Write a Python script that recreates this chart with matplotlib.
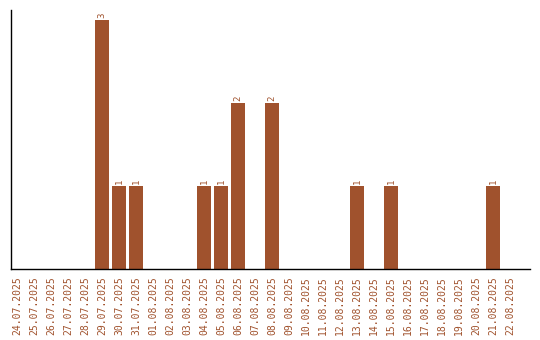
import matplotlib
matplotlib.use("Agg")
import matplotlib.pyplot as plt
import numpy as np

dates = ["24.07.2025","25.07.2025","26.07.2025","27.07.2025","28.07.2025","29.07.2025",
         "30.07.2025","31.07.2025","01.08.2025","02.08.2025","03.08.2025","04.08.2025",
         "05.08.2025","06.08.2025","07.08.2025","08.08.2025","09.08.2025","10.08.2025",
         "11.08.2025","12.08.2025","13.08.2025","14.08.2025","15.08.2025","16.08.2025",
         "17.08.2025","18.08.2025","19.08.2025","20.08.2025","21.08.2025","22.08.2025"]
counts = [0,0,0,0,0,3,1,1,0,0,0,1,1,2,0,2,0,0,0,0,1,0,1,0,0,0,0,0,1,0]

color = "#A0522D"
fig = plt.figure(figsize=(5.4, 3.4), dpi=100)
ax = fig.add_axes([0.0204, 0.2088, 0.9611, 0.7618])
x = np.arange(len(dates))
bars = ax.bar(x, counts, width=0.82, color=color)
for xi, c in zip(x, counts):
    if c > 0:
        ax.text(xi, c + 0.02, str(c), rotation=90, ha="center", va="bottom",
                fontsize=6.5, color=color, family="DejaVu Sans Mono")
ax.set_xlim(-0.35, 30.18)
ax.set_ylim(0, 3.12)
ax.set_xticks(x)
ax.set_xticklabels(dates, rotation=90, fontsize=7, color=color, family="DejaVu Sans Mono")
ax.tick_params(axis="x", length=0, pad=5)
ax.set_yticks([])
for s in ["top", "right"]:
    ax.spines[s].set_visible(False)
ax.spines["left"].set_linewidth(1)
ax.spines["bottom"].set_linewidth(1)
fig.savefig("out.png", dpi=100)
